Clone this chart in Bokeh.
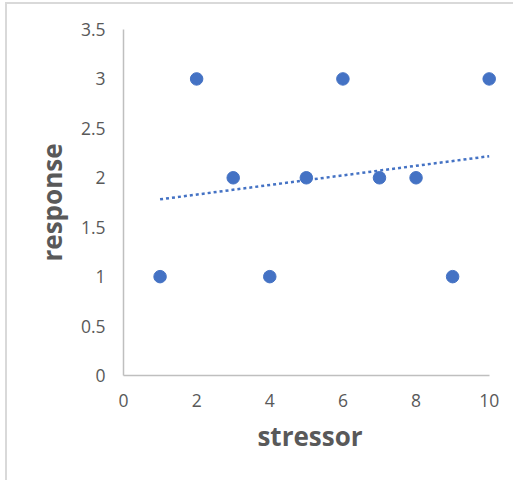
import numpy as np
from bokeh.plotting import figure
from bokeh.models import FixedTicker, Range1d
from bokeh.embed import file_html
from bokeh.resources import INLINE

# Observations: stressor level vs. response
stressor = [1, 2, 3, 4, 5, 6, 7, 8, 9, 10]
response = [1, 3, 2, 1, 2, 3, 2, 2, 1, 3]

x_ticks = [0, 2, 4, 6, 8, 10]
y_ticks = [0, 0.5, 1, 1.5, 2, 2.5, 3, 3.5]
y_tick_labels = ["0", "0.5", "1", "1.5", "2", "2.5", "3", "3.5"]

BLUE = "#4472C4"
TEXT = "#595959"
AXIS = "#BFBFBF"
FONT = "Open Sans"

# x range runs a little past 10 so the last marker is not clipped;
# the axis line itself stops at 10 via its bounds.
p = figure(
    width=508, height=478,
    x_range=Range1d(0, 10.2), y_range=Range1d(0, 3.5),
    output_backend="svg", toolbar_location=None,
    min_border_left=116, min_border_right=19,
    min_border_top=25, min_border_bottom=107,
)
p.styles = {"border-left": "2px solid #D9D9D9", "border-top": "2px solid #D9D9D9",
            "margin-left": "5px", "margin-top": "2px"}
p.outline_line_color = None
p.grid.grid_line_color = None
p.background_fill_color = "white"
p.border_fill_color = "white"

# Linear trendline (least squares)
slope, intercept = np.polyfit(stressor, response, 1)
tx = np.array([min(stressor), max(stressor)], dtype=float)
p.line(tx, slope * tx + intercept, line_color=BLUE, line_width=2.5,
       line_dash="3 3", line_cap="butt")

p.scatter(stressor, response, size=12.5, marker="circle",
          fill_color=BLUE, line_color=BLUE)

for ax in (p.xaxis[0], p.yaxis[0]):
    ax.axis_line_color = AXIS
    ax.axis_line_width = 1.5
    ax.major_tick_line_color = None
    ax.minor_tick_line_color = None
    ax.major_tick_out = 0
    ax.major_tick_in = 0
    ax.major_label_text_font = FONT
    ax.major_label_text_font_size = "17.5px"
    ax.major_label_text_color = TEXT
    ax.axis_label_text_font = FONT
    ax.axis_label_text_font_style = "bold"
    ax.axis_label_text_font_size = "26px"
    ax.axis_label_text_color = TEXT

p.xaxis.bounds = (0, 10)
p.xaxis.ticker = FixedTicker(ticks=x_ticks)
p.yaxis.ticker = FixedTicker(ticks=y_ticks)
p.yaxis.major_label_overrides = {t: s for t, s in zip(y_ticks, y_tick_labels)}
p.xaxis.major_label_standoff = 18
p.yaxis.major_label_standoff = 18
p.xaxis.axis_label = "stressor"
p.yaxis.axis_label = "response"
p.xaxis.axis_label_standoff = 8
p.yaxis.axis_label_standoff = 8

open("out.html", "w").write(file_html(p, INLINE))
